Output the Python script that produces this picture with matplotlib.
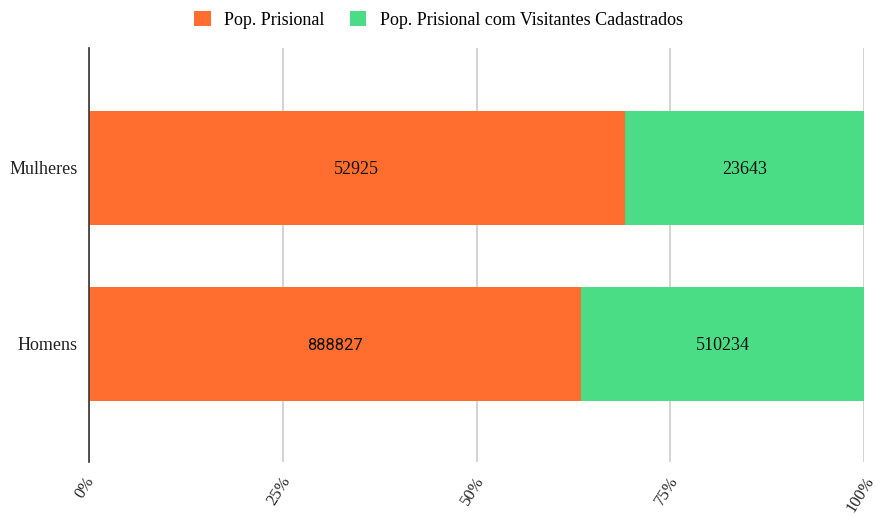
import matplotlib
matplotlib.use("Agg")
import matplotlib.pyplot as plt
import numpy as np

categories = ["Homens", "Mulheres"]
pop_prisional = [888827, 52925]
pop_visitantes = [510234, 23643]
series_names = ["Pop. Prisional", "Pop. Prisional com Visitantes Cadastrados"]
tick_labels = ["0%", "25%", "50%", "75%", "100%"]
colors = ["#FF6D2F", "#4ADD86"]

plt.rcParams['font.family'] = ['Liberation Serif', 'DejaVu Serif']

fig = plt.figure(figsize=(8.77, 5.16), dpi=100)
ax = fig.add_axes([89/877, 54/516, 775/877, 414/516])

a = np.array(pop_prisional, float)
b = np.array(pop_visitantes, float)
tot = a + b
fa = a / tot
fb = b / tot
y = np.arange(len(categories))
h = 0.648

ax.barh(y, fa, height=h, color=colors[0], label=series_names[0], zorder=3)
ax.barh(y, fb, left=fa, height=h, color=colors[1], label=series_names[1], zorder=3)

for i in range(len(categories)):
    fam = ['Roboto'] if categories[i] == "Homens" else ['Liberation Serif']
    ax.text(fa[i] / 2, y[i] - 0.01, str(pop_prisional[i]), ha='center', va='center',
            fontsize=13 if fam == ['Liberation Serif'] else 12, family=fam, color='#111111', zorder=4)
    ax.text(fa[i] + fb[i] / 2, y[i] - 0.01, str(pop_visitantes[i]), ha='center', va='center',
            fontsize=13, color='#111111', zorder=4)

ax.set_xlim(0, 1)
ax.set_ylim(-0.67, 1.68)
ax.set_yticks(y)
ax.set_yticklabels(categories, fontsize=13, color='#222222')
ticks = np.linspace(0, 1, 5)
ax.set_xticks(ticks)
ax.set_xticklabels([''] * len(ticks))
for t, lab in zip(ticks, tick_labels):
    ax.annotate(lab, xy=(t, 0), xycoords=('data', 'axes fraction'),
                xytext=(-4, -12), textcoords='offset pixels',
                ha='center', va='top', rotation=58, fontsize=12,
                color='#222222', annotation_clip=False)
ax.tick_params(axis='both', length=0)
ax.tick_params(axis='y', pad=8)
ax.grid(axis='x', color='#cccccc', linewidth=1.2, zorder=0)
for s in ['top', 'right', 'bottom']:
    ax.spines[s].set_visible(False)
ax.spines['left'].set_color('#333333')
ax.spines['left'].set_linewidth(1.2)
ax.spines['left'].set_zorder(5)

fig.legend(loc='center', bbox_to_anchor=(0.5, 1 - 20/516), ncol=2, frameon=False,
           fontsize=13, handlelength=0.9, handleheight=0.9, columnspacing=1.4,
           handletextpad=0.75)

fig.savefig("out.png", dpi=100)
